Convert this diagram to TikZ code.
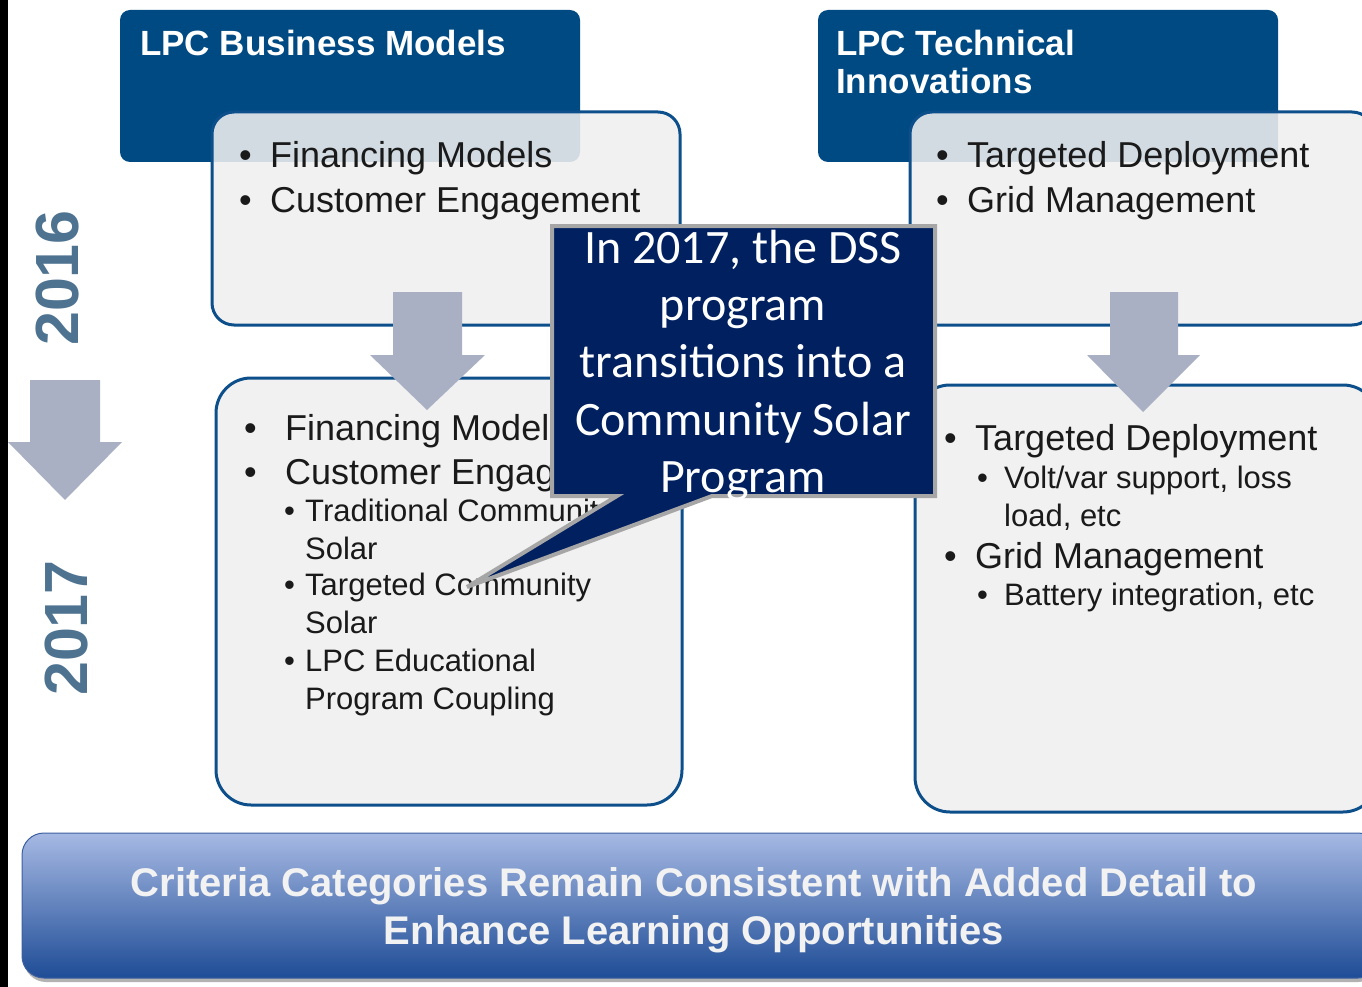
\documentclass[tikz,border=0pt]{standalone}
\usepackage{fontspec}
\setmainfont{Liberation Sans}
\newfontfamily\calib{Carlito}
\definecolor{hdrblue}{HTML}{004A83}
\definecolor{boxgray}{HTML}{F0F0F0}
\definecolor{boxline}{HTML}{0D4F8B}
\definecolor{arrowgray}{HTML}{A9B0C3}
\definecolor{navy}{HTML}{002060}
\definecolor{callgray}{HTML}{A6A6A6}
\definecolor{yearblue}{HTML}{4E7391}
\definecolor{txt}{HTML}{1A1A1A}
\definecolor{bantop}{HTML}{A6B9E3}
\definecolor{banmid}{HTML}{7B94CC}
\definecolor{banbot}{HTML}{1E4C96}
\definecolor{banline}{HTML}{3C5FA0}
\definecolor{bantext}{HTML}{F2F2F2}
\newcommand\bl[1]{\makebox[#1][l]{•}}
\begin{document}
\begin{tikzpicture}[x=1pt,y=-1pt,
  hdr/.style={fill=hdrblue, rounded corners=10pt},
  lbox/.style={fill=boxgray, fill opacity=0.88, draw=boxline, line width=3pt},
  barrow/.style={fill=arrowgray},
  bt/.style={anchor=base west, inner sep=0pt, text=txt, font=\fontsize{36}{40}\selectfont},
  st/.style={anchor=base west, inner sep=0pt, text=txt, font=\fontsize{31}{36}\selectfont},
  ht/.style={anchor=base west, inner sep=0pt, text=white, font=\bfseries\fontsize{35}{38}\selectfont},
  ct/.style={anchor=base, inner sep=0pt, text=white, font=\calib\fontsize{48}{57}\selectfont},
  yr/.style={rotate=90, inner sep=0pt, text=yearblue, font=\bfseries\fontsize{61}{61}\selectfont},
  bn/.style={anchor=base, inner sep=0pt, text=bantext, font=\bfseries\fontsize{40}{48}\selectfont}]
\useasboundingbox (0,0) rectangle (1362,987);
\clip (0,0) rectangle (1362,987);
\fill[white] (0,0) rectangle (1362,987);
\fill[black] (0,0) rectangle (8,987);

% headers
\fill[hdr] (120,10) rectangle (580,162);
\fill[hdr] (818,10) rectangle (1278,162);
\node[ht] (h1) at (140,56) {LPC Business Models};
\node[ht] (h2a) at (836,56) {LPC Technical};
\node[ht] (h2b) at (836,94) {Innovations};

% light boxes
\draw[lbox, rounded corners=22pt] (212,112) rectangle (680,325);
\draw[lbox, rounded corners=22pt] (910,112) rectangle (1374,325);
\draw[lbox, rounded corners=35pt] (216,378) rectangle (682,805);
\draw[lbox, rounded corners=35pt] (915,385) rectangle (1378,812);

% texts box 1
\node[bt] (a1) at (239,168) {\bl{31pt}Financing Models};
\node[bt] (a2) at (239,212) {\bl{31pt}Customer Engagement};
% texts box 3
\node[bt] (c1) at (936,168) {\bl{31pt}Targeted Deployment};
\node[bt] (c2) at (936,212) {\bl{31pt}Grid Management};
% texts box 2
\node[bt] (b1) at (244,440) {\bl{41pt}Financing Models};
\node[bt] (b2) at (244,484) {\bl{41pt}Customer Engagement};
\node[st] (b3) at (284,521) {\bl{21pt}Traditional Community};
\node[st] (b4) at (305,559) {Solar};
\node[st] (b5) at (284,595) {\bl{21pt}Targeted Community};
\node[st] (b6) at (305,633) {Solar};
\node[st] (b7) at (284,671) {\bl{21pt}LPC Educational};
\node[st] (b8) at (305,709) {Program Coupling};
% texts box 4
\node[bt] (d1) at (944,450) {\bl{31pt}Targeted Deployment};
\node[st] (d2) at (977,488) {\bl{27pt}Volt/var support, loss};
\node[st] (d3) at (1004,526) {load, etc};
\node[bt] (d4) at (944,568) {\bl{31pt}Grid Management};
\node[st] (d5) at (977,605) {\bl{27pt}Battery integration, etc};

% block arrows
\fill[barrow] (393,292) -- (462,292) -- (462,355) -- (485,355) -- (427,410) -- (370,355) -- (393,355) -- cycle;
\fill[barrow] (1110,292) -- (1178,292) -- (1178,355) -- (1200,355) -- (1143,412) -- (1087,355) -- (1110,355) -- cycle;
\fill[barrow] (30,380) -- (100,380) -- (100,442) -- (122,442) -- (65,500) -- (8,442) -- (30,442) -- cycle;

% years
\node[yr] (y16) at (58,278) {2016};
\node[yr] (y17) at (66,628) {2017};

% callout
\filldraw[fill=navy, draw=callgray, line width=4pt, line join=miter]
  (552,226) -- (935,226) -- (935,496) -- (712,496) -- (467,587) -- (617,496) -- (552,496) -- cycle;
\node[ct] (k1) at (743,263) {In 2017, the DSS};
\node[ct] (k2) at (743,320) {program};
\node[ct] (k3) at (743,377) {transitions into a};
\node[ct] (k4) at (743,435) {Community Solar};
\node[ct] (k5) at (743,492) {Program};

% banner
\fill[gray!60, rounded corners=22pt] (24,838) rectangle (1380,982);
\shade[top color=bantop, middle color=banmid, bottom color=banbot, draw=banline, line width=1pt, rounded corners=22pt] (22,833) rectangle (1380,978);
\node[bn] (n1) at (694,896) {Criteria Categories Remain Consistent with Added Detail to};
\node[bn] (n2) at (694,944) {Enhance Learning Opportunities};
\end{tikzpicture}
\end{document}
